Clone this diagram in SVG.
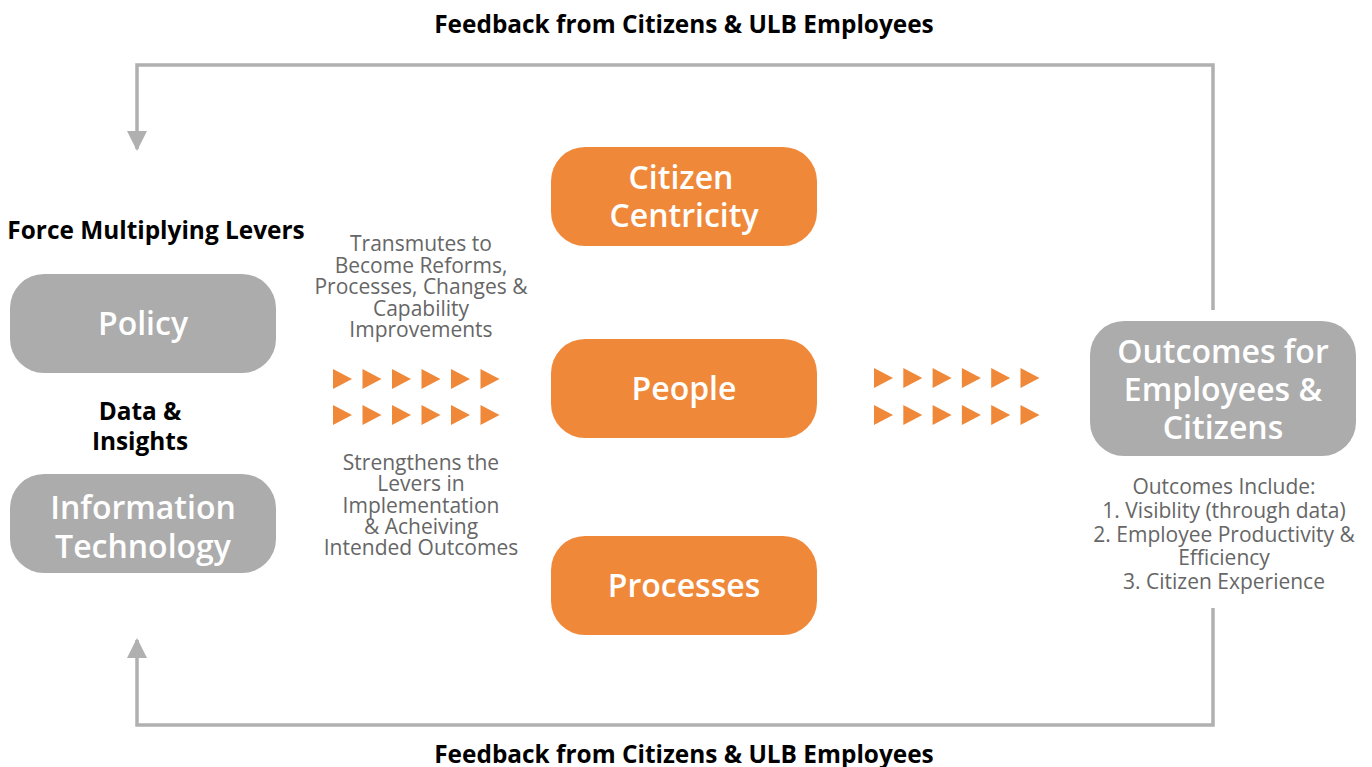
<svg xmlns="http://www.w3.org/2000/svg" width="1372" height="767" viewBox="0 0 1372 767">
  <defs>
    <style>
      .lever { fill: #acacac; }
      .pillar { fill: #f0883a; }
      .node-label { font-family: "Open Sans", "Noto Sans", sans-serif; font-weight: 600; font-size: 32px; fill: #ffffff; text-anchor: middle; }
      .heading { font-family: "Open Sans", "Noto Sans", sans-serif; font-weight: 700; font-size: 24.4px; fill: #000000; text-anchor: middle; }
      .note { font-family: "Open Sans", "Noto Sans", sans-serif; font-size: 21px; fill: #666666; text-anchor: middle; }
      .loop { fill: none; stroke: #b0b0b0; stroke-width: 3.5; }
      .chev { fill: #f0883a; }
    </style>
    <marker id="head" viewBox="0 0 10 10" refX="9" refY="5" markerWidth="5.8" markerHeight="5.8" orient="auto" markerUnits="strokeWidth">
      <path d="M0,0 L10,5 L0,10 Z" fill="#b0b0b0"/>
    </marker>
    <polygon id="tri" points="0,0 19,10 0,20" class="chev"/>
  </defs>

  <rect width="1372" height="767" fill="#ffffff"/>

  <!-- feedback loops and flow chevrons -->
  <g id="connectors">
    <path class="loop" d="M1213,310 L1213,65 L137,65 L137,149" marker-end="url(#head)"/>
    <path class="loop" d="M1213,608 L1213,725 L137,725 L137,640" marker-end="url(#head)"/>
    <g id="flow-left">
      <use href="#tri" x="333" y="369"/><use href="#tri" x="362.5" y="369"/><use href="#tri" x="392" y="369"/>
      <use href="#tri" x="421.5" y="369"/><use href="#tri" x="451" y="369"/><use href="#tri" x="480.5" y="369"/>
      <use href="#tri" x="333" y="405"/><use href="#tri" x="362.5" y="405"/><use href="#tri" x="392" y="405"/>
      <use href="#tri" x="421.5" y="405"/><use href="#tri" x="451" y="405"/><use href="#tri" x="480.5" y="405"/>
    </g>
    <g id="flow-right">
      <use href="#tri" x="874" y="368"/><use href="#tri" x="903.3" y="368"/><use href="#tri" x="932.6" y="368"/>
      <use href="#tri" x="961.9" y="368"/><use href="#tri" x="991.2" y="368"/><use href="#tri" x="1020.5" y="368"/>
      <use href="#tri" x="874" y="405"/><use href="#tri" x="903.3" y="405"/><use href="#tri" x="932.6" y="405"/>
      <use href="#tri" x="961.9" y="405"/><use href="#tri" x="991.2" y="405"/><use href="#tri" x="1020.5" y="405"/>
    </g>
  </g>

  <!-- headings -->
  <text class="heading" x="684" y="33">Feedback from Citizens &amp; ULB Employees</text>
  <text class="heading" x="684" y="763">Feedback from Citizens &amp; ULB Employees</text>
  <text class="heading" x="156" y="239">Force Multiplying Levers</text>
  <text class="heading" x="140" y="420">Data &amp;</text>
  <text class="heading" x="140" y="450">Insights</text>

  <!-- levers -->
  <g id="policy">
    <rect class="lever" x="10" y="274" width="266" height="99" rx="34"/>
    <text class="node-label" x="143" y="335">Policy</text>
  </g>
  <g id="information-technology">
    <rect class="lever" x="10" y="474" width="266" height="99" rx="34"/>
    <text class="node-label" x="143" y="519">Information</text>
    <text class="node-label" x="143" y="558">Technology</text>
  </g>

  <!-- pillars -->
  <g id="citizen-centricity">
    <rect class="pillar" x="551" y="147" width="266" height="99" rx="34"/>
    <text class="node-label" x="681" y="189">Citizen</text>
    <text class="node-label" x="684" y="227">Centricity</text>
  </g>
  <g id="people">
    <rect class="pillar" x="551" y="339" width="266" height="99" rx="34"/>
    <text class="node-label" x="684" y="400">People</text>
  </g>
  <g id="processes">
    <rect class="pillar" x="551" y="536" width="266" height="99" rx="34"/>
    <text class="node-label" x="684" y="597">Processes</text>
  </g>

  <!-- outcomes -->
  <g id="outcomes">
    <rect class="lever" x="1090" y="321" width="266" height="135" rx="34"/>
    <text class="node-label" x="1223" y="363">Outcomes for</text>
    <text class="node-label" x="1223" y="401">Employees &amp;</text>
    <text class="node-label" x="1223" y="439">Citizens</text>
  </g>

  <!-- notes -->
  <g id="transmutes-note">
    <text class="note" x="421" y="251">Transmutes to</text>
    <text class="note" x="421" y="273">Become Reforms,</text>
    <text class="note" x="421" y="294">Processes, Changes &amp;</text>
    <text class="note" x="421" y="316">Capability</text>
    <text class="note" x="421" y="337">Improvements</text>
  </g>
  <g id="strengthens-note">
    <text class="note" x="421" y="470">Strengthens the</text>
    <text class="note" x="421" y="491">Levers in</text>
    <text class="note" x="421" y="513">Implementation</text>
    <text class="note" x="421" y="534">&amp; Acheiving</text>
    <text class="note" x="421" y="555">Intended Outcomes</text>
  </g>
  <g id="outcomes-note">
    <text class="note" x="1224" y="494">Outcomes Include:</text>
    <text class="note" x="1224" y="518">1. Visiblity (through data)</text>
    <text class="note" x="1224" y="542">2. Employee Productivity &amp;</text>
    <text class="note" x="1224" y="565">Efficiency</text>
    <text class="note" x="1224" y="589">3. Citizen Experience</text>
  </g>
</svg>
